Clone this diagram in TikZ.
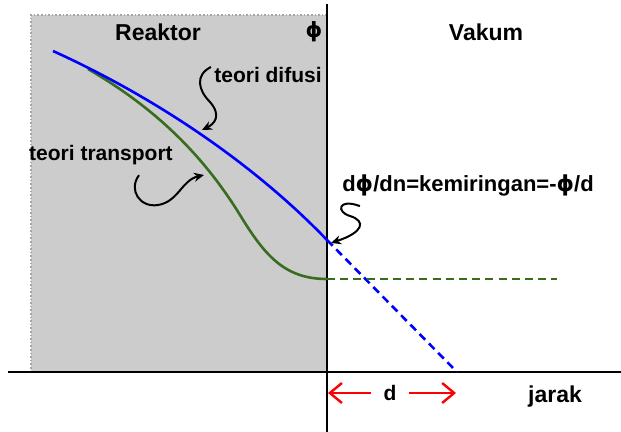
\documentclass[tikz,border=0pt]{standalone}
\usepackage{fontspec}
\setmainfont{Liberation Sans}
\newfontfamily\phifont{DejaVu Sans}
\usetikzlibrary{arrows.meta}
\definecolor{transgreen}{RGB}{56,108,30}
\tikzset{
  axis line/.style={line width=0.8pt},
  diff curve/.style={blue,line width=1.3pt},
  trans curve/.style={transgreen,line width=1.3pt},
  ext dash/.style={dash pattern=on 4pt off 2.6pt},
  head text/.style={font=\bfseries\fontsize{11.5}{13}\selectfont,inner sep=0pt},
  note text/.style={font=\bfseries\fontsize{10.5}{12}\selectfont,inner sep=0pt},
  curly arrow/.style={-{Stealth[length=5pt,width=4.5pt]},line width=1pt},
  span arrow/.style={red,line width=1.2pt,-{Straight Barb[length=6pt,width=10pt]}},
}
\newcommand{\phisym}{{\phifont\bfseries ϕ}}

\begin{document}
\begin{tikzpicture}[x=0.5pt,y=-0.5pt]
  \useasboundingbox (0,0) rectangle (621,432);
  % reactor region
  \fill[gray!40] (31,15) rectangle (327,372);
  \draw[gray!70,densely dotted,line width=0.8pt] (327,15) -- (31,15) -- (31,372) -- (327,372);
  % axes
  \draw[axis line] (327,4) -- (327,432);
  \draw[axis line] (8,372) -- (621,372);
  % headings
  \node[head text] (reaktor) at (158,32) {Reaktor};
  \node[note text] (phi) at (314,32) {\phisym};
  \node[head text] (vakum) at (486,32) {Vakum};
  % flux curves
  \draw[trans curve] (88,69) .. controls (150,105) and (200,150) .. (240,215)
    .. controls (265,256) and (285,279) .. (327,279);
  \draw[diff curve] (53,51) .. controls (150,95) and (250,160) .. (327,240);
  \draw[diff curve,ext dash] (327,240) -- (457,372);
  \draw[trans curve,ext dash] (327,279) -- (557,279);
  % labels and pointers
  \node[note text] (difusi) at (268,75) {teori difusi};
  \node[note text] (transport) at (101,155) {teori transport};
  \node[note text,font=\bfseries\fontsize{11}{13}\selectfont] (slope) at (468,185) {d\phisym/dn=kemiringan=-\phisym/d};
  \coordinate (difusi tip) at (202,130);
  \coordinate (transport tip) at (204,175);
  \coordinate (slope tip) at (331,243);
  \draw[curly arrow] ([shift={(-3,-8)}]difusi.west) .. controls (195,75) and (198,90) .. (210,102)
    .. controls (222,116) and (214,124) .. (difusi tip);
  \draw[curly arrow] ([shift={(38,10)}]transport.south) .. controls (128,190) and (140,208) .. (158,205)
    .. controls (178,202) and (182,180) .. (transport tip);
  \draw[curly arrow] ([shift={(18,10)}]slope.south west) .. controls (338,198) and (336,212) .. (350,216)
    .. controls (366,221) and (364,232) .. (slope tip);
  % distance d
  \node[note text,inner xsep=6pt] (dlab) at (390,393) {d};
  \coordinate (d left) at (328,393);
  \coordinate (d right) at (456,393);
  \draw[span arrow] (dlab) -- (d left);
  \draw[span arrow] (dlab) -- (d right);
  \node[head text] (jarak) at (555,397) {jarak};
\end{tikzpicture}
\end{document}
